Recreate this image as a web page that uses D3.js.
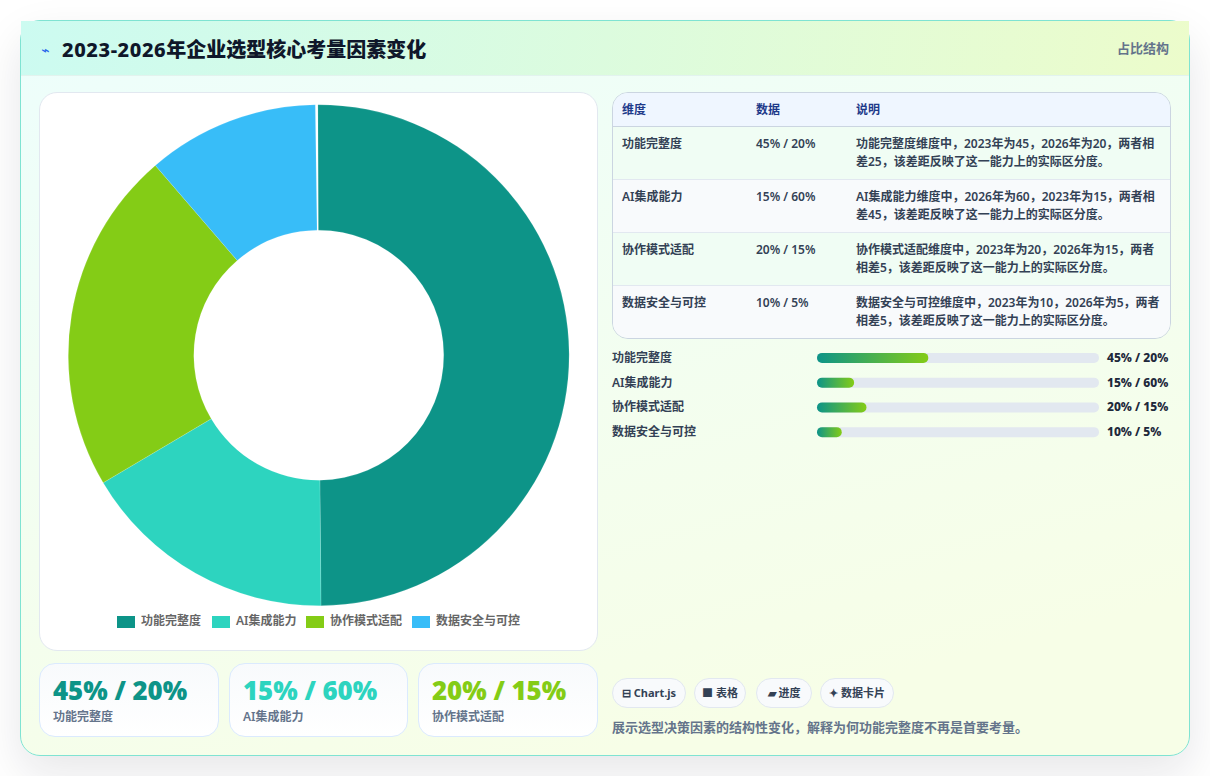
<!DOCTYPE html>
<html lang="zh">
<head>
<meta charset="utf-8">
<title>2023-2026年企业选型核心考量因素变化</title>
<script src="https://cdn.jsdelivr.net/npm/d3@7"></script>
<style>
    * { box-sizing: border-box; }
    html, body { margin: 0; width: 1210px; height: 776px; overflow: hidden; background: #fff; }
    body { font-family: "Noto Sans", "Noto Sans CJK SC", sans-serif; position: relative; }
    .abs { position: absolute; }
    #card {
        left: 20px; top: 20px; width: 1170px; height: 736px; border-radius: 20px;
        border: 1px solid #7fe3d2;
        background: linear-gradient(165deg, #edfefc 0%, #f7fee7 85%);
        box-shadow: 0 18px 45px rgba(15, 23, 42, 0.10);
    }
    #header {
        left: 21px; top: 21px; width: 1168px; height: 55px;
        background: linear-gradient(100deg, #ccfbf1 0%, #ecfccb 100%);
        border-bottom: 1px solid #e2f3ee;
    }
    #icon { left: 41px; top: 40px; font: 14px/20px "DejaVu Sans"; color: #2563eb; }
    #title { left: 62px; top: 36px; font-size: 20px; line-height: 28px; font-weight: 800; color: #0f172a; white-space: nowrap; }
    #title span { letter-spacing: 0.6px; }
    #tag { right: 41px; top: 39px; font-size: 13px; line-height: 18px; font-weight: 700; color: #64748b; }
    #chartPanel { left: 39px; top: 92px; width: 559px; height: 559px; background: #fff; border: 1px solid #e2e8f0; border-radius: 18px; }
    .legend-box { width: 18px; height: 12px; }
    .legend-text { font-size: 12px; line-height: 16px; color: #666; font-weight: 600; white-space: nowrap; }
    .stat { height: 74px; top: 663px; border: 1px solid #dbeafe; border-radius: 16px; background: linear-gradient(180deg, #f8fafc, #fff); }
    .stat .v { position: absolute; left: 13px; top: 9px; font-size: 25.8px; line-height: 34px; font-weight: 900; white-space: nowrap; }
    .stat .l { position: absolute; left: 13px; top: 44px; font-size: 12px; line-height: 18px; font-weight: 600; color: #64748b; white-space: nowrap; }
    #tableWrap { left: 612px; top: 92px; width: 559px; height: 247px; border: 1px solid #cbd5e1; border-radius: 16px; overflow: hidden; }
    table { border-collapse: collapse; width: 100%; table-layout: fixed; font-size: 12px; line-height: 18px; color: #334155; font-weight: 600; }
    th { text-align: left; height: 33px; padding: 2px 9px 0; background: #eff6ff; color: #1e3a8a; font-weight: 700; border-bottom: 1px solid #cbd5e1; }
    td { vertical-align: top; padding: 8px 9px 8px; height: 53px; border-bottom: 1px solid #e2e8f0; }
    tr:last-child td { border-bottom: 0; }
    tbody tr:nth-child(odd) td { background: #f0fdf4; }
    tbody tr:nth-child(even) td { background: #f8fafc; }
    .bar-label { left: 612px; font-size: 12px; line-height: 18px; color: #334155; font-weight: 600; white-space: nowrap; }
    .bar-value { left: 1107px; font-size: 12px; line-height: 18px; color: #1e293b; font-weight: 800; white-space: nowrap; }
    .chip { top: 678px; height: 30px; border: 1px solid #e2e8f0; border-radius: 15px; background: #f8fafc; font-size: 11px; line-height: 28px; font-weight: 700; color: #334155; text-align: center; white-space: nowrap; }
    #note { left: 612px; top: 718px; font-size: 13px; line-height: 18px; font-weight: 600; color: #64748b; white-space: nowrap; }
</style>
</head>
<body>
<script>
const categories = ["功能完整度", "AI集成能力", "协作模式适配", "数据安全与可控"];
const values2023 = [45, 15, 20, 10];
const values2026 = [20, 60, 15, 5];
const colors = ["#0d9488", "#2dd4bf", "#84cc16", "#38bdf8"];
const notes = [
    "功能完整度维度中，2023年为45，2026年为20，两者相差25，该差距反映了这一能力上的实际区分度。",
    "AI集成能力维度中，2026年为60，2023年为15，两者相差45，该差距反映了这一能力上的实际区分度。",
    "协作模式适配维度中，2023年为20，2026年为15，两者相差5，该差距反映了这一能力上的实际区分度。",
    "数据安全与可控维度中，2023年为10，2026年为5，两者相差5，该差距反映了这一能力上的实际区分度。"
];
const tableHead = ["维度", "数据", "说明"];
const chips = ["⊟ Chart.js", "■ 表格", "▰ 进度", "✦ 数据卡片"];
const label = i => `${values2023[i]}% / ${values2026[i]}%`;

const body = d3.select("body");
const block = (id) => body.append("div").attr("id", id).attr("class", "abs");

block("card");
block("header");
block("icon").text("⌁");
const title = block("title");
title.append("span").text("2023-2026");
title.append("tspan").text("年企业选型核心考量因素变化");
block("tag").text("占比结构");
block("chartPanel");

// Donut
const svg = body.append("svg")
    .attr("class", "abs")
    .style("left", "0px").style("top", "0px")
    .attr("width", 1210).attr("height", 776);

// the sweep stops just short of a full turn, which leaves the hairline gap at 12 o'clock
const deg = Math.PI / 180;
const pie = d3.pie().sort(null).startAngle(-0.2 * deg).endAngle(359.2 * deg)(values2023);
const arc = d3.arc().innerRadius(125).outerRadius(250.5);

svg.append("g")
    .attr("transform", "translate(318.8,355.2)")
    .selectAll("path")
    .data(pie)
    .enter()
    .append("path")
    .attr("d", arc)
    .attr("fill", (d, i) => colors[i])
    .attr("stroke", "#fff")
    .attr("stroke-opacity", 0.35)
    .attr("stroke-width", 0.4);

// Legend
const legendBoxX = [117, 212, 306, 412];
categories.forEach((c, i) => {
    body.append("div").attr("class", "abs legend-box")
        .style("left", legendBoxX[i] + "px").style("top", "616px")
        .style("background", colors[i]);
    body.append("div").attr("class", "abs legend-text")
        .style("left", (legendBoxX[i] + 24) + "px").style("top", "613px")
        .text(c);
});

// Stat cards
const statX = [39, 229, 418];
const statW = [180, 179, 180];
statX.forEach((x, i) => {
    const s = body.append("div").attr("class", "abs stat")
        .style("left", x + "px").style("width", statW[i] + "px");
    s.append("div").attr("class", "v").style("color", colors[i]).text(label(i));
    s.append("div").attr("class", "l").text(categories[i]);
});

// Table
const table = block("tableWrap").append("table");
const cols = table.append("colgroup");
[134, 100, 325].forEach(w => cols.append("col").style("width", w + "px"));
table.append("thead").append("tr")
    .selectAll("th").data(tableHead).enter().append("th").text(d => d);
const rows = table.append("tbody").selectAll("tr").data(categories).enter().append("tr");
rows.append("td").text(d => d);
rows.append("td").text((d, i) => label(i));
rows.append("td").text((d, i) => notes[i]);

// Progress bars
const barX = d3.scaleLinear().domain([0, 114]).range([0, 282]);
const barY = d3.scaleBand().domain(categories).range([345, 444]).paddingInner(0);
const defs = svg.append("defs");
categories.forEach((c, i) => {
    const g = defs.append("linearGradient").attr("id", "bar" + i);
    g.append("stop").attr("offset", "0%").attr("stop-color", "#0d9488");
    g.append("stop").attr("offset", "100%").attr("stop-color", "#84cc16");
    const y = barY(c) + barY.bandwidth() / 2 - 5 + 0.5;
    svg.append("rect").attr("x", 817).attr("y", y).attr("width", barX.range()[1]).attr("height", 10)
        .attr("rx", 5).attr("fill", "#e2e8f0");
    svg.append("rect").attr("x", 817).attr("y", y).attr("width", barX(values2023[i])).attr("height", 10)
        .attr("rx", 5).attr("fill", `url(#bar${i})`);
    body.append("div").attr("class", "abs bar-label").style("top", (y - 4) + "px").text(c);
    body.append("div").attr("class", "abs bar-value").style("top", (y - 4) + "px").text(label(i));
});

// Chips and footer note
const chipX = [612, 694, 756, 820];
const chipW = [74, 52, 56, 74];
chips.forEach((c, i) => {
    body.append("div").attr("class", "abs chip")
        .style("left", chipX[i] + "px").style("width", chipW[i] + "px").text(c);
});
block("note").text("展示选型决策因素的结构性变化，解释为何功能完整度不再是首要考量。");
</script>
</body>
</html>
